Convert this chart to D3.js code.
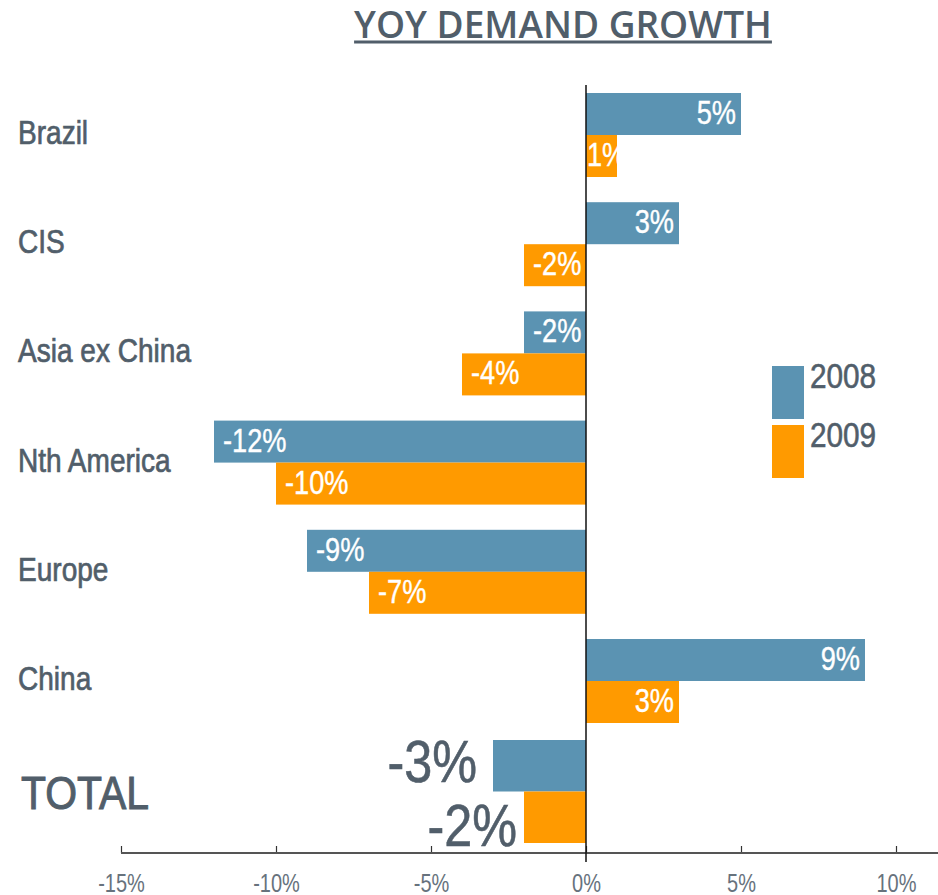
<!DOCTYPE html>
<html>
<head>
<meta charset="utf-8">
<script src="https://cdn.jsdelivr.net/npm/d3@7"></script>
<style>
  body { margin: 0; background: #fff; }
  svg { display: block; }
</style>
</head>
<body>
<script>
//------------------------------------ data ------------------------------------
const categories = ["Brazil", "CIS", "Asia ex China", "Nth America", "Europe", "China"];
const growth2008 = [5, 3, -2, -12, -9, 9];
const growth2009 = [1, -2, -4, -10, -7, 3];
const totalName = "TOTAL";
const total2008 = -3;
const total2009 = -2;
const years = ["2008", "2009"];
const xTicks = [-15, -10, -5, 0, 5, 10];

//------------------------------------ init ------------------------------------
const width = 938,
    height = 895,
    axisY = 853;

const blue = "#5b93b2",
    orange = "#ff9a00",
    slate = "#515e6a",
    font = "'Liberation Sans', Arial, sans-serif",
    squeeze = 0.8;   // no narrow face installed, so squeeze the regular one

const color = d3.scaleOrdinal().domain(years).range([blue, orange]);

//------------------------------------ scales ------------------------------------
const xScale = d3.scaleLinear().domain([-15, 10]).range([121, 896]);

const yScale = d3.scaleBand()
    .domain(categories)
    .range([93, 723])
    .paddingInner(0.2308)
    .paddingOuter(0);

const ySub = d3.scaleBand().domain(years).range([0, yScale.bandwidth()]);

// the TOTAL row sits just above the axis with taller bars
const yTotal = d3.scaleBand().domain(years).range([axisY - 113, axisY - 10]);

const rows = categories.map((c, i) => ({ name: c, values: [growth2008[i], growth2009[i]] }));
const totals = [total2008, total2009];

// narrow text helper: position through transform so the squeeze keeps the anchor
function narrowAt(sel, fx, fy, sx) {
    return sel.attr("transform", (d, i) => `translate(${fx(d, i)},${fy(d, i)}) scale(${sx || squeeze},1)`)
        .attr("font-family", font);
}

//------------------------------------ svg ------------------------------------
const svg = d3.select("body").append("svg")
    .attr("width", width)
    .attr("height", height);

//------------------------------------ title ------------------------------------
const title = svg.append("text")
    .attr("x", 563)
    .attr("y", 38)
    .attr("text-anchor", "middle")
    .attr("font-family", "'Open Sans', sans-serif")
    .attr("font-weight", 600)
    .attr("font-size", 37)
    .attr("fill", slate)
    .text("YOY DEMAND GROWTH");

const tb = title.node().getBBox();
svg.append("line")
    .attr("x1", tb.x).attr("x2", tb.x + tb.width)
    .attr("y1", 42).attr("y2", 42)
    .attr("stroke", slate)
    .attr("stroke-width", 3);

//------------------------------------ bars ------------------------------------
const groups = svg.selectAll("g.row")
    .data(rows)
    .enter().append("g")
    .attr("class", "row")
    .attr("transform", d => `translate(0,${yScale(d.name)})`);

groups.selectAll("rect")
    .data(d => d.values.map((v, j) => ({ year: years[j], v })))
    .enter().append("rect")
    .attr("x", d => xScale(Math.min(0, d.v)))
    .attr("y", d => ySub(d.year))
    .attr("width", d => Math.abs(xScale(d.v) - xScale(0)))
    .attr("height", ySub.bandwidth())
    .attr("fill", d => color(d.year));

const barW = d => Math.abs(xScale(d.v) - xScale(0));

narrowAt(groups.selectAll("text.val")
    .data(d => d.values.map((v, j) => ({ year: years[j], v })))
    .enter().append("text")
    .attr("class", "val"),
    d => d.v < 0 ? xScale(d.v) + 9 : (barW(d) < 45 ? xScale(0) + 1 : xScale(d.v) - 5),
    d => ySub(d.year) + ySub.bandwidth() / 2 + 10)
    .attr("font-size", 34)
    .attr("fill", "#fff")
    .attr("stroke", "#fff")
    .attr("stroke-width", 0.4)
    .attr("text-anchor", d => (d.v < 0 || barW(d) < 45) ? "start" : "end")
    .text(d => d.v + "%");

// category names
narrowAt(svg.selectAll("text.cat")
    .data(rows)
    .enter().append("text")
    .attr("class", "cat"),
    () => 18,
    d => yScale(d.name) + yScale.bandwidth() / 2 + 9,
    0.85)
    .attr("font-size", 33)
    .attr("fill", slate)
    .attr("stroke", slate)
    .attr("stroke-width", 0.7)
    .text(d => d.name);

//------------------------------------ total ------------------------------------
svg.selectAll("rect.total")
    .data(totals.map((v, j) => ({ year: years[j], v })))
    .enter().append("rect")
    .attr("class", "total")
    .attr("x", d => xScale(Math.min(0, d.v)))
    .attr("y", d => yTotal(d.year))
    .attr("width", d => Math.abs(xScale(d.v) - xScale(0)))
    .attr("height", yTotal.bandwidth())
    .attr("fill", d => color(d.year));

narrowAt(svg.selectAll("text.totalval")
    .data(totals.map((v, j) => ({ year: years[j], v })))
    .enter().append("text")
    .attr("class", "totalval"),
    d => xScale(d.v) - (d.year === "2008" ? 16 : 7),
    d => yTotal(d.year) + yTotal.bandwidth() / 2 + (d.year === "2008" ? 16 : 29),
    0.84)
    .attr("text-anchor", "end")
    .attr("font-size", 60)
    .attr("fill", slate)
    .attr("stroke", slate)
    .attr("stroke-width", 0.6)
    .text(d => d.v + "%");

narrowAt(svg.append("text").datum(totalName),
    () => 21,
    () => yTotal.range()[0] + (yTotal.range()[1] - yTotal.range()[0]) / 2 + 17,
    0.87)
    .attr("font-size", 47)
    .attr("fill", slate)
    .attr("stroke", slate)
    .attr("stroke-width", 1)
    .text(d => d);

//------------------------------------ legend ------------------------------------
const legend = svg.append("g").attr("transform", "translate(772,366)");
const legendItem = legend.selectAll("g")
    .data(years)
    .enter().append("g")
    .attr("transform", (d, i) => `translate(0,${i * 59})`);

legendItem.append("rect")
    .attr("width", 32)
    .attr("height", 53)
    .attr("fill", d => color(d));

narrowAt(legendItem.append("text"), () => 38, () => 22, 0.85)
    .attr("font-size", 35)
    .attr("fill", slate)
    .attr("stroke", slate)
    .attr("stroke-width", 0.6)
    .text(d => d);

//------------------------------------ axes ------------------------------------
const xAxis = d3.axisBottom(xScale)
    .tickValues(xTicks)
    .tickSizeInner(-7)
    .tickSizeOuter(0)
    .tickPadding(21)
    .tickFormat(d => d + "%");

const gx = svg.append("g")
    .attr("transform", `translate(0,${axisY})`)
    .call(xAxis);

gx.select(".domain").remove();
gx.selectAll(".tick line").attr("stroke", "#333").attr("stroke-width", 1.2);
gx.selectAll(".tick text")
    .attr("font-family", font)
    .attr("font-size", 25)
    .attr("transform", `scale(${squeeze},1)`)
    .attr("fill", "#67727d");

gx.append("line")
    .attr("x1", xScale.range()[0])
    .attr("x2", width)
    .attr("stroke", "#555")
    .attr("stroke-width", 2);

// zero line
svg.append("line")
    .attr("x1", xScale(0)).attr("x2", xScale(0))
    .attr("y1", 85).attr("y2", axisY + 9)
    .attr("stroke", "#111")
    .attr("stroke-width", 1.5);
</script>
</body>
</html>
